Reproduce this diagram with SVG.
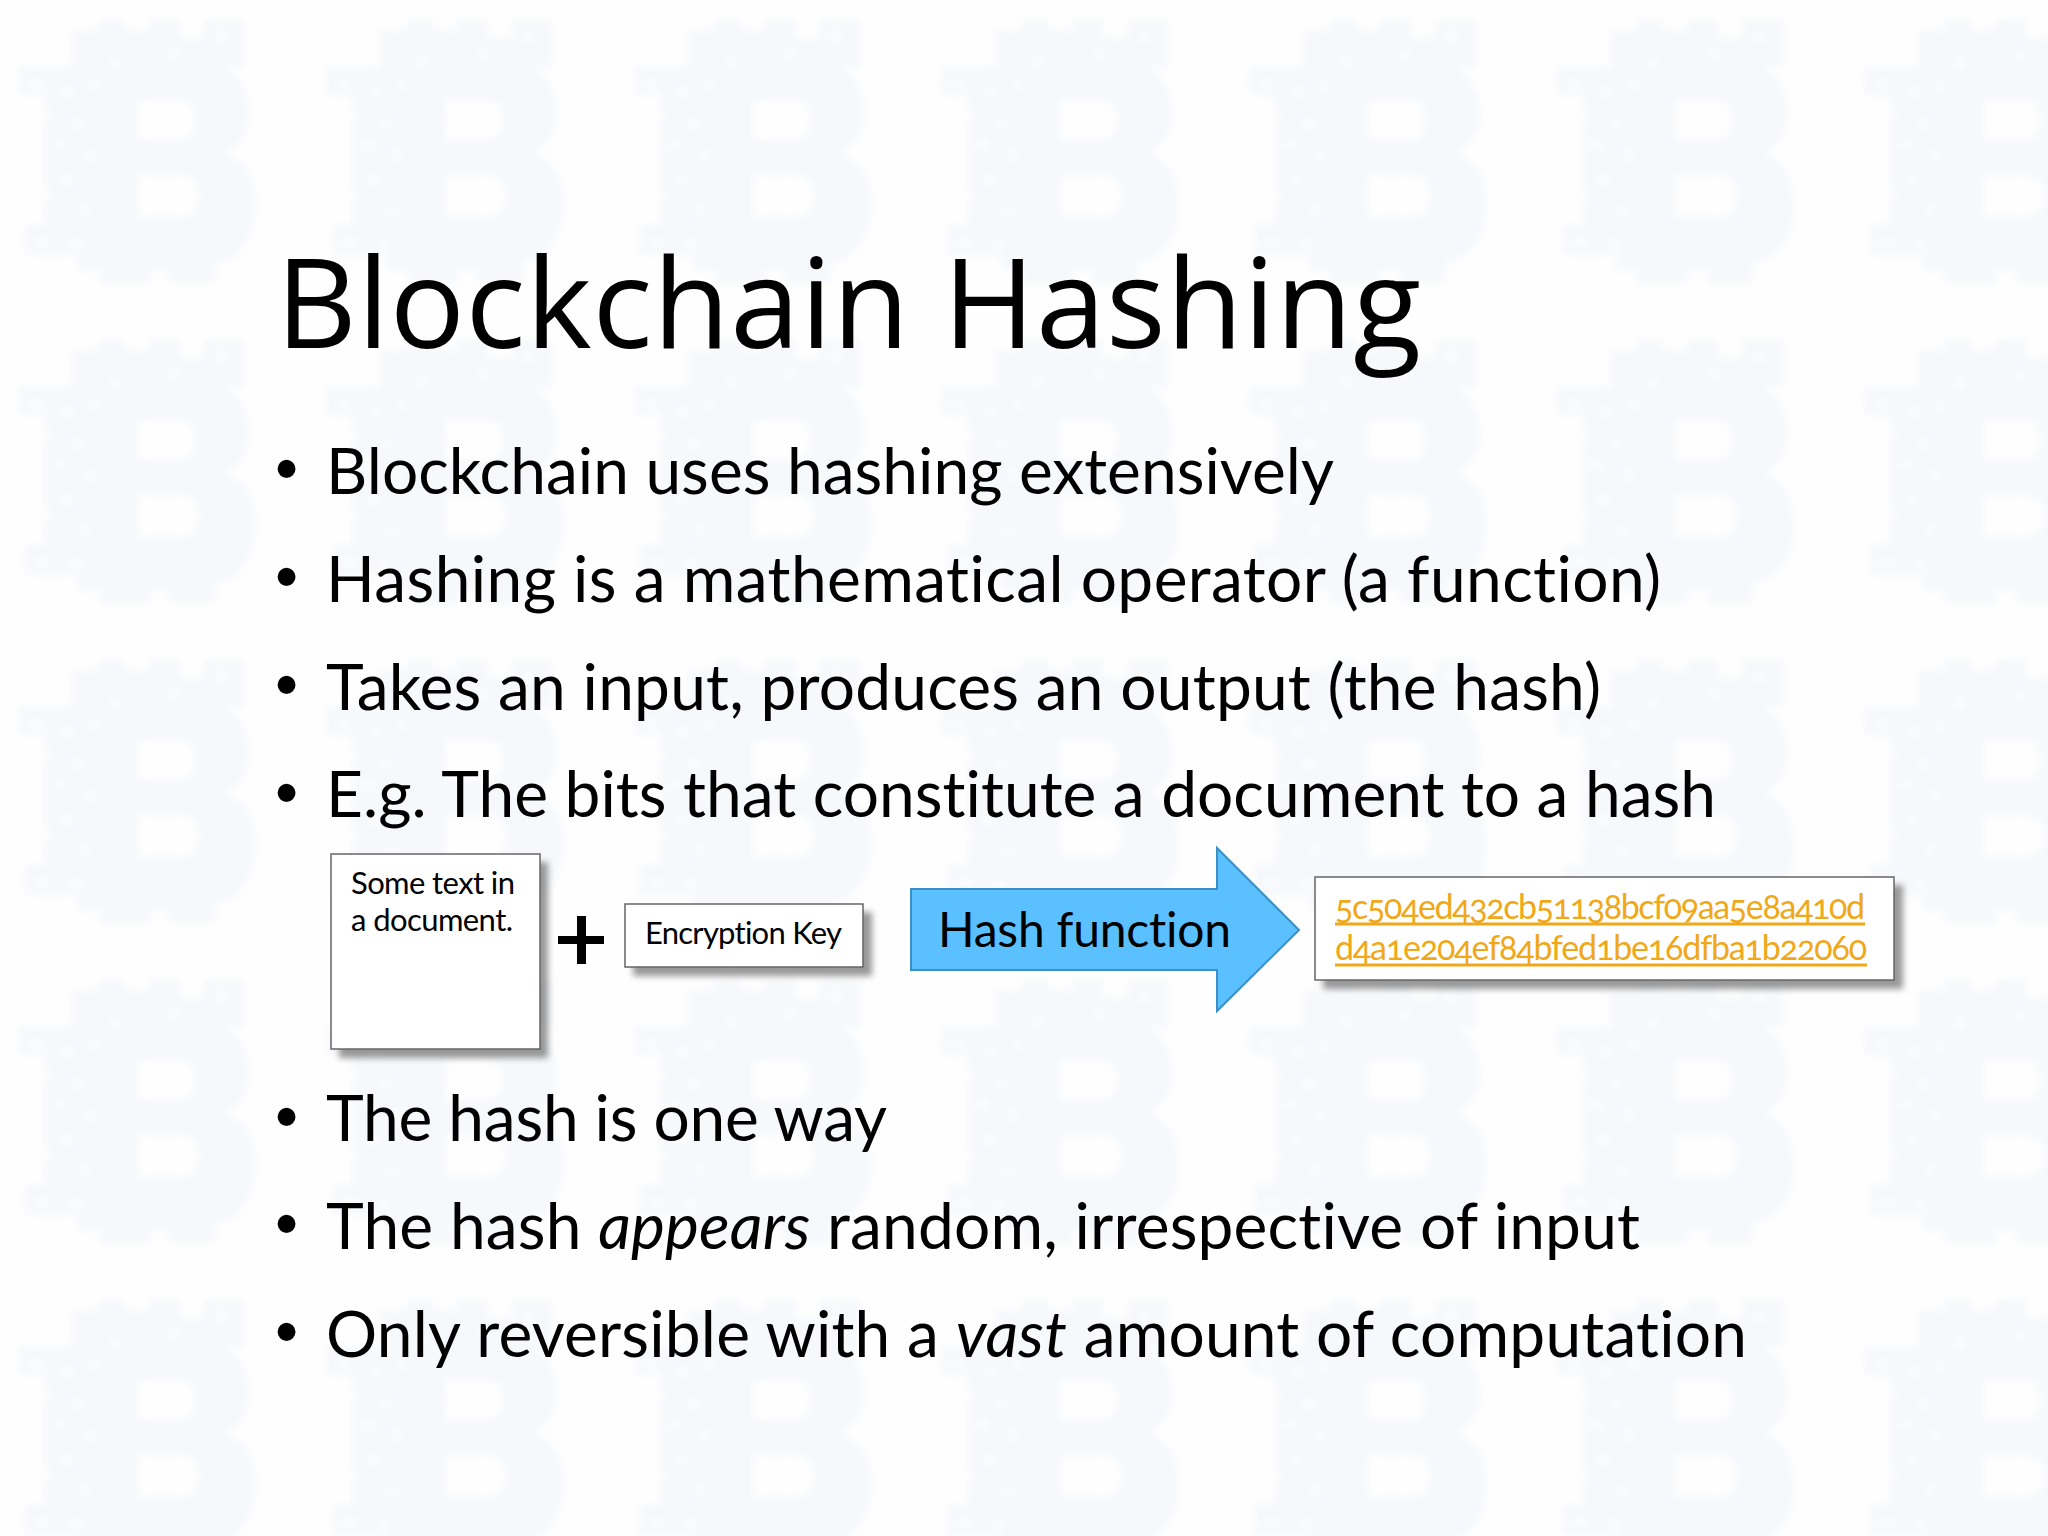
<svg xmlns="http://www.w3.org/2000/svg" width="2048" height="1536" viewBox="0 0 2048 1536">
<style>
text{font-family:"Lato","Open Sans","Liberation Sans",sans-serif;fill:#000;font-variant-ligatures:none}
.title{font-family:"Open Sans","Noto Sans",sans-serif;font-size:125px}
.body{font-size:64px}
.bul{font-family:"Liberation Sans",sans-serif;font-size:66px}
.small{font-size:31px}
.hash{font-size:34px;fill:#f0a818;font-feature-settings:"onum";font-variant-numeric:oldstyle-nums}
.rule{stroke:#f0a818;stroke-width:3}
.box{fill:#fff;stroke:#666;stroke-width:1.5}
.shadow{fill:#777;opacity:.75;filter:url(#soft)}
</style>
<defs>
<filter id="soft" x="-20%" y="-20%" width="140%" height="140%"><feGaussianBlur stdDeviation="3"/></filter>
<filter id="bg" x="-10%" y="-10%" width="120%" height="120%"><feGaussianBlur stdDeviation="3.5"/></filter>
<pattern id="coin" width="307.6" height="320" patternUnits="userSpaceOnUse">
<g filter="url(#bg)">
<path fill="#f6f8fc" fill-rule="evenodd" d="M73 30H100V20H125V30H150V20H180V38H205V20H245V67H225C240 75 249 90 249 115C249 135 238 148 225 153C245 160 256 178 256 205C256 240 235 262 215 262V283H170V270H150V283H100V270H78V255H25V225H45V95H19V67H73ZM138 100V140H180C190 140 195 132 195 120C195 108 190 100 180 100ZM138 175V217H182C193 217 199 208 199 196C199 184 193 175 182 175Z"/>
<g fill="#fefefe" opacity=".8">
<rect x="30" y="80" width="12" height="9"/><rect x="62" y="88" width="12" height="9"/><rect x="90" y="82" width="10" height="8"/><rect x="40" y="110" width="10" height="10"/><rect x="72" y="120" width="12" height="9"/><rect x="54" y="140" width="12" height="9"/><rect x="85" y="150" width="10" height="10"/><rect x="60" y="175" width="12" height="10"/><rect x="42" y="190" width="10" height="9"/><rect x="80" y="205" width="10" height="9"/><rect x="35" y="238" width="14" height="9"/><rect x="70" y="240" width="12" height="9"/><rect x="110" y="58" width="10" height="10"/><rect x="170" y="50" width="10" height="10"/><rect x="215" y="32" width="12" height="10"/>
</g></g>
</pattern>
</defs>
<rect width="2048" height="1536" fill="#fefefe"/>
<rect id="background" width="2048" height="1536" fill="url(#coin)"/>
<text class="title" x="276" y="348" textLength="1145">Blockchain Hashing</text>
<g id="bullets">
<g><text class="bul" x="275" y="491">•</text><text class="bul" x="275" y="599">•</text><text class="bul" x="275" y="707">•</text><text class="bul" x="275" y="815">•</text><text class="bul" x="275" y="1139">•</text><text class="bul" x="275" y="1246">•</text><text class="bul" x="275" y="1354">•</text></g>
<text class="body" x="326" y="494" textLength="1008">Blockchain uses hashing extensively</text>
<text class="body" x="326" y="602" textLength="1335">Hashing is a mathematical operator (a function)</text>
<text class="body" x="326" y="710" textLength="1275">Takes an input, produces an output (the hash)</text>
<text class="body" x="326" y="817" textLength="1390">E.g. The bits that constitute a document to a hash</text>
<text class="body" x="326" y="1141" textLength="561">The hash is one way</text>
<text class="body" x="326" y="1249" textLength="1314">The hash <tspan font-style="italic">appears</tspan> random, irrespective of input</text>
<text class="body" x="326" y="1357" textLength="1421">Only reversible with a <tspan font-style="italic">vast</tspan> amount of computation</text>
</g>
<g id="document">
<rect class="shadow" x="339" y="862" width="209" height="196"/>
<rect class="box" x="331" y="854" width="209" height="195"/>
<text class="small" x="351" y="894" textLength="164">Some text in</text>
<text class="small" x="351" y="931" textLength="162">a document.</text>
</g>
<g id="plus"><path d="M558 936H604V944H558ZM577 916H586V964H577Z" fill="#000"/></g>
<g id="key">
<rect class="shadow" x="633" y="912" width="239" height="64"/>
<rect class="box" x="625" y="904" width="238" height="63"/>
<text class="small" x="645" y="944" textLength="197">Encryption Key</text>
</g>
<g id="hash-function">
<path d="M911 889H1217V848L1299 930L1217 1011V970H911Z" fill="#5bc0ff" stroke="#3a8fc4" stroke-width="2"/>
<text x="938" y="947" font-size="48" textLength="293">Hash function</text>
</g>
<g id="hash-output">
<rect class="shadow" x="1323" y="885" width="580" height="104"/>
<rect class="box" x="1315" y="877" width="579" height="103"/>
<text class="hash" x="1335" y="919" textLength="530">5c504ed432cb51138bcf09aa5e8a410d</text>
<text class="hash" x="1335" y="960" textLength="532">d4a1e204ef84bfed1be16dfba1b22060</text>
<path class="rule" d="M1335 924H1865M1335 965H1867"/>
</g>
<g id="connectors"/>
</svg>
